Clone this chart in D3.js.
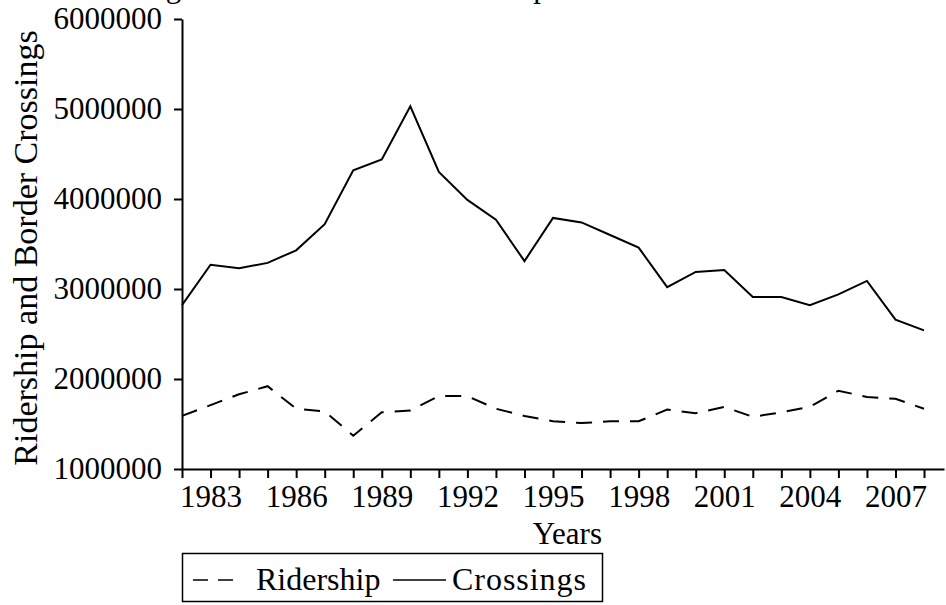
<!DOCTYPE html>
<html>
<head>
<meta charset="utf-8">
<script src="https://cdn.jsdelivr.net/npm/d3@7.9.0/dist/d3.min.js"></script>
<style>
  body { margin: 0; background: #fff; }
  svg text { font-family: "Liberation Serif", "Times New Roman", serif; fill: #000; }
  .axis path, .axis line { stroke: #000; stroke-width: 2; }
</style>
</head>
<body>
<svg width="946" height="605"></svg>
<script>
const years = d3.range(1982, 2009);
const crossings = [2820000, 3270000, 3230000, 3290000, 3430000, 3720000, 4320000, 4440000, 5030000,
  4300000, 3990000, 3770000, 3310000, 3790000, 3740000, 3600000, 3460000, 3020000, 3190000,
  3210000, 2910000, 2910000, 2820000, 2940000, 3090000, 2660000, 2540000];
const ridership = [1590000, 1710000, 1830000, 1920000, 1670000, 1640000, 1370000, 1630000, 1650000,
  1810000, 1810000, 1670000, 1590000, 1530000, 1510000, 1530000, 1530000, 1660000, 1620000,
  1690000, 1580000, 1630000, 1690000, 1870000, 1800000, 1780000, 1670000];
const yTicks = [1000000, 2000000, 3000000, 4000000, 5000000, 6000000];
const xTickLabels = [1983, 1986, 1989, 1992, 1995, 1998, 2001, 2004, 2007];

const svg = d3.select('svg');

const x = d3.scaleLinear().domain([1982, 2008.7]).range([182, 944]);
const y = d3.scaleLinear().domain([1000000, 6000000]).range([469, 19]);

// title sits above the frame, only its descenders show (as in the source)
svg.append('text')
  .attr('x', 140).attr('y', -3)
  .attr('font-size', 31)
  .text('Figure 3: Total Annual Ridership');

// axes
svg.append('g').attr('class', 'axis')
  .attr('transform', 'translate(0,469)')
  .call(d3.axisBottom(x).tickValues(years).tickSize(9).tickSizeOuter(0).tickPadding(7)
    .tickFormat(d => xTickLabels.includes(d) ? d : ''))
  .call(g => g.selectAll('text').attr('font-size', 31));

svg.append('g').attr('class', 'axis')
  .attr('transform', 'translate(182,0)')
  .call(d3.axisLeft(y).tickValues(yTicks).tickSize(8).tickSizeOuter(0).tickPadding(12)
    .tickFormat(d3.format('d')))
  .call(g => g.selectAll('text').attr('font-size', 31));

// lines
const line = vals => d3.line().x((d, i) => x(years[i])).y(d => y(d))(vals);

svg.append('path')
  .attr('d', line(crossings))
  .attr('fill', 'none').attr('stroke', '#000').attr('stroke-width', 2);

svg.append('path')
  .attr('d', line(ridership))
  .attr('fill', 'none').attr('stroke', '#000').attr('stroke-width', 2)
  .attr('stroke-dasharray', '16,11');

// axis titles
svg.append('text')
  .attr('x', 602).attr('y', 544)
  .attr('text-anchor', 'end')
  .attr('font-size', 31)
  .text('Years');

svg.append('text')
  .attr('transform', 'translate(37,248) rotate(-90)')
  .attr('text-anchor', 'middle')
  .attr('font-size', 34)
  .text('Ridership and Border Crossings');

// legend
const lg = svg.append('g');
lg.append('rect')
  .attr('x', 182.5).attr('y', 553.5).attr('width', 420).attr('height', 48)
  .attr('fill', 'none').attr('stroke', '#000').attr('stroke-width', 1.5);
lg.append('line')
  .attr('x1', 193).attr('x2', 238).attr('y1', 580).attr('y2', 580)
  .attr('stroke', '#000').attr('stroke-width', 1.5).attr('stroke-dasharray', '15,10');
lg.append('text').attr('x', 256).attr('y', 590).attr('font-size', 32).text('Ridership');
lg.append('line')
  .attr('x1', 393).attr('x2', 446).attr('y1', 580).attr('y2', 580)
  .attr('stroke', '#000').attr('stroke-width', 1.5);
lg.append('text').attr('x', 452).attr('y', 590).attr('font-size', 32)
  .attr('textLength', 134).text('Crossings');
</script>
</body>
</html>
